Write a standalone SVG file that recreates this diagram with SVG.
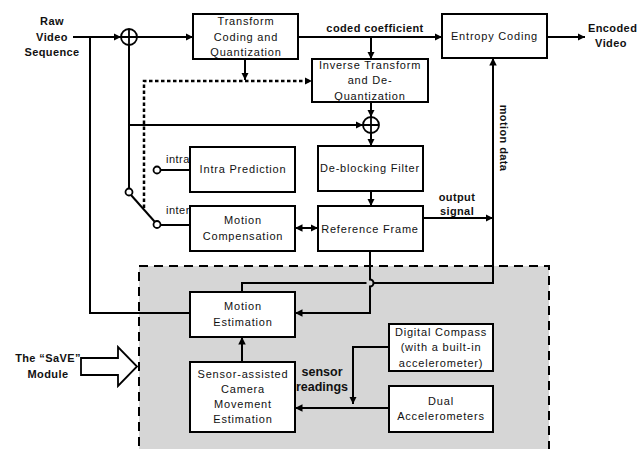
<svg xmlns="http://www.w3.org/2000/svg" width="641" height="449" viewBox="0 0 641 449">
<defs>
<marker id="ah" viewBox="0 0 10 10" refX="10" refY="5" markerWidth="7.5" markerHeight="7.5" markerUnits="userSpaceOnUse" orient="auto-start-reverse">
<path d="M0,0 L10,5 L0,10 z" fill="#000"/>
</marker>
<style>
.box{fill:#fff;stroke:#000;stroke-width:2}
.t{font-family:"Liberation Sans",Arial,sans-serif;font-size:11px;letter-spacing:0.8px;text-anchor:middle;fill:#111}
.b{font-family:"Liberation Sans",Arial,sans-serif;font-size:11px;font-weight:bold;letter-spacing:0.4px;text-anchor:middle;fill:#111}
.ln{fill:none;stroke:#000;stroke-width:2}
.ar{fill:none;stroke:#000;stroke-width:2;marker-end:url(#ah)}
.sm{fill:#fff;stroke:#000;stroke-width:1.8}
</style>
</defs>
<rect id="save-region" x="139" y="266" width="410" height="190" fill="#d6d6d6" stroke="#000" stroke-width="2" stroke-dasharray="9,6"/>
<g id="connectors">
<line class="ar" x1="73" y1="37" x2="121" y2="37"/>
<line class="ar" x1="137" y1="37" x2="193" y2="37"/>
<line class="ar" x1="298" y1="37" x2="442" y2="37"/>
<line class="ar" x1="371" y1="37" x2="371" y2="59"/>
<line class="ar" x1="547" y1="37" x2="585" y2="37"/>
<line class="ar" x1="245" y1="59" x2="245" y2="80"/>
<path d="M144,208 L144,81 L312,81" fill="none" stroke="#000" stroke-width="2.5" stroke-dasharray="3.5,2.5" marker-end="url(#ah)"/>
<polyline class="ln" points="90,37 90,313 190,313"/>
<line class="ln" x1="129" y1="45" x2="129" y2="188.5"/>
<line class="ar" x1="129" y1="125" x2="363" y2="125"/>
<line class="ar" x1="371" y1="102" x2="371" y2="117"/>
<line class="ar" x1="371" y1="133" x2="371" y2="146"/>
<line class="ar" x1="371" y1="191" x2="371" y2="206"/>
<line class="ln" x1="131" y1="195" x2="154.5" y2="221.5"/>
<line class="ln" x1="160.5" y1="170" x2="190" y2="170"/>
<line class="ln" x1="160.5" y1="225" x2="190" y2="225"/>
<line class="ar" x1="295" y1="228" x2="318" y2="228" marker-start="url(#ah)"/>
<line class="ar" x1="423" y1="218" x2="493" y2="218"/>
<path class="ln" d="M370,251 L370,279.5 A3.5,3.5 0 0 1 370,286.5 L370,313 L295,313" marker-end="url(#ah)"/>
<path class="ln" d="M242,292 L242,283 L366.5,283 M373.5,283 L493,283 L493,58" marker-end="url(#ah)"/>
<line class="ar" x1="242" y1="362" x2="242" y2="337"/>
<polyline class="ln" points="389,347 353,347 353,404" marker-end="url(#ah)"/>
<line class="ar" x1="389" y1="408" x2="295" y2="408"/>
<circle class="sm" cx="129" cy="192" r="3.5"/>
<circle class="sm" cx="157" cy="170" r="3.5"/>
<circle class="sm" cx="157" cy="224.5" r="3.5"/>
</g>
<g id="sum1">
<circle cx="129" cy="37" r="8" fill="#fff" stroke="#000" stroke-width="1.8"/>
<path d="M121,37 H137 M129,29 V45" stroke="#000" stroke-width="1.8"/>
</g>
<g id="sum2">
<circle cx="371" cy="125" r="8" fill="#fff" stroke="#000" stroke-width="1.8"/>
<path d="M363,125 H379 M371,117 V133" stroke="#000" stroke-width="1.8"/>
</g>
<g id="raw-video">
<text class="b" x="52" y="25">Raw</text>
<text class="b" x="52" y="41">Video</text>
<text class="b" x="52" y="56">Sequence</text>
</g>
<g id="transform">
<rect class="box" x="193" y="14" width="105" height="45"/>
<text class="t" x="246" y="25">Transform</text>
<text class="t" x="246" y="41">Coding and</text>
<text class="t" x="246" y="56">Quantization</text>
</g>
<text class="b" x="375" y="32">coded coefficient</text>
<g id="entropy">
<rect class="box" x="442" y="14" width="105" height="44"/>
<text class="t" x="494.5" y="40">Entropy Coding</text>
</g>
<g id="encoded-video">
<text class="b" x="588" y="32" style="text-anchor:start">Encoded</text>
<text class="b" x="611" y="47">Video</text>
</g>
<g id="inverse">
<rect class="box" x="312" y="59" width="116" height="43"/>
<text class="t" x="370" y="69">Inverse Transform</text>
<text class="t" x="370" y="84">and De-</text>
<text class="t" x="370" y="100">Quantization</text>
</g>
<g id="labels-intra-inter">
<text x="166" y="163" style="font-family:'Liberation Sans',Arial,sans-serif;font-size:11px;letter-spacing:0.5px;fill:#111">intra</text>
<text x="166" y="214" style="font-family:'Liberation Sans',Arial,sans-serif;font-size:11px;letter-spacing:0.5px;fill:#111">inter</text>
</g>
<g id="intra">
<rect class="box" x="190" y="147" width="105" height="45"/>
<text class="t" x="243" y="173">Intra Prediction</text>
</g>
<g id="deblock">
<rect class="box" x="318" y="146" width="105" height="45"/>
<text class="t" x="370" y="172">De-blocking Filter</text>
</g>
<g id="mc">
<rect class="box" x="190" y="206" width="105" height="45"/>
<text class="t" x="243" y="224">Motion</text>
<text class="t" x="243" y="240">Compensation</text>
</g>
<g id="refframe">
<rect class="box" x="318" y="206" width="105" height="45"/>
<text class="t" x="370" y="233">Reference Frame</text>
</g>
<g id="output-signal">
<text class="b" x="457" y="201">output</text>
<text class="b" x="457" y="215">signal</text>
</g>
<text class="b" transform="translate(500,138) rotate(90)">motion data</text>
<g id="me">
<rect class="box" x="190" y="292" width="105" height="45"/>
<text class="t" x="243" y="310">Motion</text>
<text class="t" x="243" y="326">Estimation</text>
</g>
<g id="scme">
<rect class="box" x="190" y="362" width="105" height="70"/>
<text class="t" x="243" y="378">Sensor-assisted</text>
<text class="t" x="243" y="393">Camera</text>
<text class="t" x="243" y="408">Movement</text>
<text class="t" x="243" y="423">Estimation</text>
</g>
<g id="sensor-readings">
<text x="322" y="376" style="font-family:'Liberation Sans',Arial,sans-serif;font-size:12.5px;font-weight:bold;text-anchor:middle;fill:#111">sensor</text>
<text x="322" y="391" style="font-family:'Liberation Sans',Arial,sans-serif;font-size:12.5px;font-weight:bold;text-anchor:middle;fill:#111">readings</text>
</g>
<g id="compass">
<rect class="box" x="389" y="324" width="104" height="47"/>
<text class="t" x="441" y="336">Digital Compass</text>
<text class="t" x="441" y="351">(with a built-in</text>
<text class="t" x="441" y="367">accelerometer)</text>
</g>
<g id="dual">
<rect class="box" x="389" y="386" width="104" height="46"/>
<text class="t" x="441" y="405">Dual</text>
<text class="t" x="441" y="420">Accelerometers</text>
</g>
<g id="save-label">
<text class="b" x="48" y="362">The “SaVE”</text>
<text class="b" x="48" y="378">Module</text>
<path d="M81,358 L118,358 L118,347 L137,366.5 L118,386 L118,375 L81,375 Z" fill="#fff" stroke="#000" stroke-width="1.8"/>
</g>
</svg>
